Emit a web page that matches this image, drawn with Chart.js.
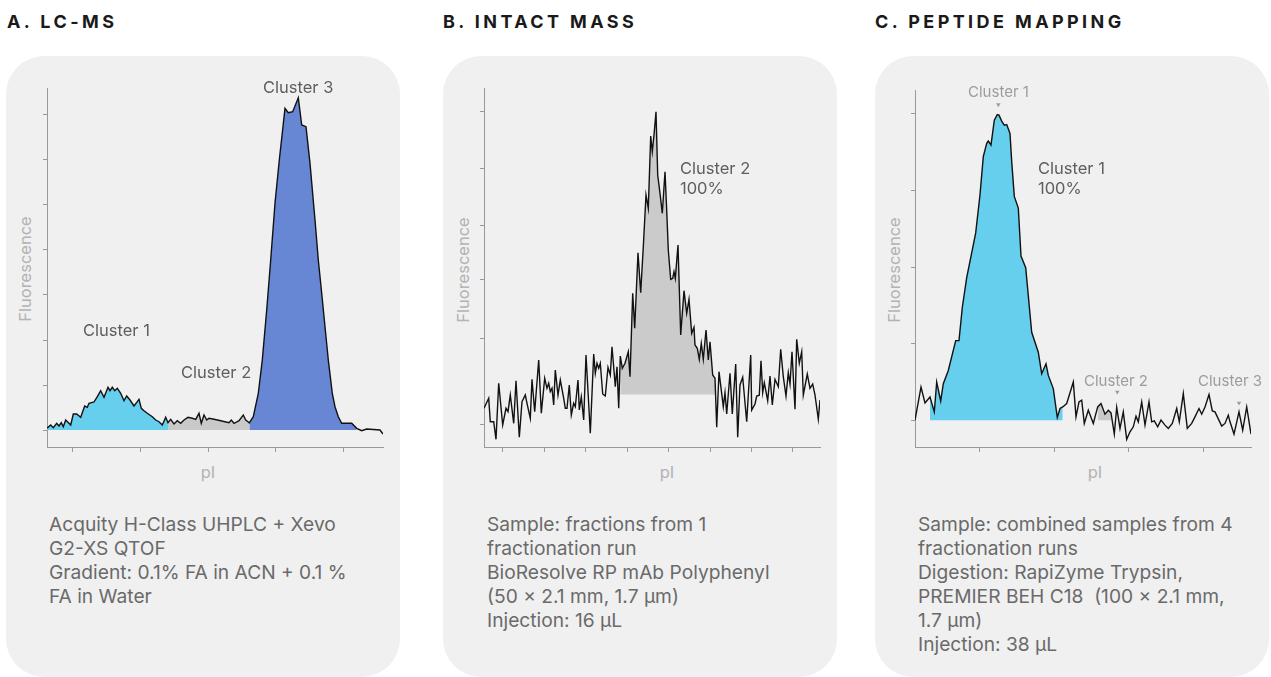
<!DOCTYPE html>
<html><head><meta charset="utf-8">
<script src="https://cdn.jsdelivr.net/npm/chart.js@4.4.1/dist/chart.umd.min.js"></script>
<style>
html,body{margin:0;padding:0;background:#fff}
body{width:1271px;height:677px;overflow:hidden;position:relative;font-family:Inter,"Noto Sans",sans-serif}
.title{position:absolute;top:13px;font-weight:700;font-size:18px;letter-spacing:3.4px;color:#1a1a1a;line-height:18px;white-space:nowrap}
.card{position:absolute;top:56px;width:394px;height:621px;background:#f0f0f0;border-radius:38px}
canvas{position:absolute}
.lbl{position:absolute;font-size:16.5px;line-height:20px;color:#5e5e5e;white-space:nowrap}
.sm{position:absolute;font-size:15px;line-height:16px;color:#9c9c9c;white-space:nowrap}
.ax{position:absolute;font-size:16.5px;line-height:20px;color:#b3b3b3;white-space:nowrap}
.rot{transform:translate(-50%,-50%) rotate(-90deg)}
.ctr{transform:translate(-50%,-50%)}
.desc{position:absolute;top:512px;font-size:19.2px;line-height:24px;color:#6a6a6a;white-space:nowrap}
</style></head>
<body>
<div class="title" style="left:7px">A. LC-MS</div>
<div class="title" style="left:443px">B. INTACT MASS</div>
<div class="title" style="left:875px">C. PEPTIDE MAPPING</div>

<div class="card" style="left:6px"></div>
<div class="card" style="left:443px"></div>
<div class="card" style="left:875px"></div>

<canvas id="chartA" width="346" height="369" style="left:41px;top:86px"></canvas>
<canvas id="chartB" width="346" height="369" style="left:478px;top:86px"></canvas>
<canvas id="chartC" width="346" height="369" style="left:909px;top:86px"></canvas>

<div class="ax rot" style="left:25px;top:269px">Fluorescence</div>
<div class="ax rot" style="left:463px;top:270px">Fluorescence</div>
<div class="ax rot" style="left:894px;top:270px">Fluorescence</div>
<div class="ax ctr" style="left:208px;top:472px">pI</div>
<div class="ax ctr" style="left:667px;top:472px">pI</div>
<div class="ax ctr" style="left:1095px;top:472px">pI</div>

<div class="lbl" style="left:263px;top:77px">Cluster 3</div>
<div class="lbl" style="left:83px;top:320px">Cluster 1</div>
<div class="lbl" style="left:181px;top:362px">Cluster 2</div>

<div class="lbl" style="left:680px;top:158px">Cluster 2<br>100%</div>

<div class="sm" style="left:968px;top:84px">Cluster 1</div>
<div class="lbl" style="left:1038px;top:158px">Cluster 1<br>100%</div>
<div class="sm" style="left:1084px;top:373px">Cluster 2</div>
<div class="sm" style="left:1198px;top:373px">Cluster 3</div>

<div class="desc" style="left:49px">Acquity H-Class UHPLC + Xevo<br>G2-XS QTOF<br>Gradient: 0.1% FA in ACN + 0.1 %<br>FA in Water</div>
<div class="desc" style="left:487px">Sample: fractions from 1<br>fractionation run<br>BioResolve RP mAb Polyphenyl<br>(50 × 2.1 mm, 1.7 µm)<br>Injection: 16 µL</div>
<div class="desc" style="left:918px">Sample: combined samples from 4<br>fractionation runs<br>Digestion: RapiZyme Trypsin,<br>PREMIER BEH C18&nbsp; (100 × 2.1 mm,<br>1.7 µm)<br>Injection: 38 µL</div>

<script>
// ---------- Panel A: LC-MS (x: pI position, arbitrary units; y: fluorescence, a.u.) ----------
const lcmsPI = [0,3.7,6.3,9.7,12,14.3,16.3,18.7,22,23.7,26.3,29.7,33.7,37.7,40.3,42,47,50.3,53.7,57,61,63,65.3,67.7,70.3,73.7,77,79.7,83,87,90.3,92,94.3,97,100.3,105.3,108.7,112,115.3,118.7,121,123.7,127,130.3,133.7,137,141,145.3,148.7,152,154.3,157,159.7,162,167,173.7,182,184.3,187,190.3,192,196.3,198.7,201,202.3,206.3,211.3,215.3,219.7,223.7,228,232.3,238,241.3,245.7,251.3,254.7,259,263,268,271.3,274.7,278,281.3,285.3,288,291.3,294.7,299.7,304.7,309.7,314.7,319.7,333,336];
const lcmsSignal = [1.7,5,2.3,6.7,4,7.3,3.3,10,6.7,5,16,16,12.7,24,22.7,26.7,28,33.3,39.3,32.7,42.7,39.3,42.7,39.3,41.7,36.7,29.3,34,30,24,28.3,30.7,21.7,19.3,16.7,13.3,10,8.3,5,12.7,7.3,10.7,6,9.3,6.7,10,12.7,11.7,10.7,16.7,6.7,15,10,11.7,10.7,9.3,7.3,10,6.7,8.3,9.3,15,10,8.3,7,13.3,36.7,70,120,170,226.7,270,321.7,317.3,318.3,332.3,305,303.3,266.7,210,170,136.7,103.3,70,36.7,23.3,13.3,6.7,6.7,6.7,1.7,-0.7,1,0,-4];
const lcmsClusterRanges = [[0,121],[121,202.3],[202.3,309.7]];
const lcmsClusterColors = ['#66cfed','#c9c9c9','#6786d4'];
const lcmsXTicks = [25.7,93.4,161,228.7,296.3];
const lcmsYTicks = [0,45,90,135,180,225,270,315];

// ---------- Panel B: Intact mass ----------
const intactPI = [0,4.7,6.3,9.7,12,14.7,18.7,22,24,26.3,29.7,32,35.3,38,41.3,43,46.3,48,50.7,54.7,57.3,60.7,63,64.7,66.3,68,69.7,71.3,74,76.3,79.7,81.3,83,85.3,87.3,89.7,91.3,94,95.3,97.3,99.7,102,106.3,109.7,111.3,113,114.7,116.3,118.7,121.3,124,126.3,128,131.3,133,134.7,136.3,138.3,141,144.3,146,148.7,150.7,154,156.7,159.3,162,164.3,166.7,168.3,170,172,173.7,176,178.3,181,182.7,184.3,186.7,188.7,190,191.3,194,196.7,200,202.7,205,207.7,210,211,213.3,215.3,217.3,219.3,222,224.3,226,228.7,231,232.7,235,239.3,241,242.7,246,248.3,251.7,253.7,256,258.7,262.7,266.7,267.7,271,272.7,275.3,277,278.7,280.3,283.7,286,288.3,291,294.3,296.7,299.3,302,304.3,306,308,311,312.7,315.3,317.7,319.3,323.3,326,328.7,331,334.3,336];
const intactSignal = [15.7,25.7,2.3,2.3,-15.3,40.7,-1,15.7,12.3,29,0.7,43.3,-13.3,22.3,29,20.7,5.7,44.7,12.3,64,10.7,45.7,35.7,40.7,32.3,35.7,19,54,29,44,25.7,15.7,15.7,39,9,20.7,17.3,44,14,27.3,4,69,-9.3,70,50.7,60.7,55.7,60.7,30,28,56.7,49,77.3,37.3,57.3,15.7,68,55.7,60.7,72.3,47.3,130.7,95.7,171.3,131.3,177.3,229,215.7,288,272.3,289,312.3,249,230.7,210.7,252.3,214,174,144.7,145.7,152.3,145.7,179,89,133.3,110.7,124.7,90.7,96.7,79,75.7,64.7,80.7,64.7,94,64,82.3,49,45.7,-3.3,52.3,17.3,31.3,10,50.7,10,60,-13.3,39,46.7,2.3,69,14,20,28,28.7,63.3,31.3,41.3,23.3,48,19,44.7,37.3,74.7,47.3,28,51.3,40,72.3,14.7,84.7,60.7,72.3,29,50,35.7,40,29,4.7,24];
const intactClusterRange = [136,231];
const intactClusterBase = 29.5;
const intactXTicks = [18.7,60.3,101.7,143.3,184.7,226,267.7,308.7];
const intactYTicks = [0,85.7,144,199,255.7,312.3];

// ---------- Panel C: Peptide mapping ----------
const peptidePI = [0,6,10,15,19.3,21.7,25.7,28.3,33.3,40.7,44,47.3,51.7,56.7,60.7,65,68.3,71.7,73.3,76,79.3,82.3,84,86.7,89.3,91.7,95,96.7,99.3,103.3,106,110.7,116.7,123.3,126.7,131,133.3,138.3,142.3,145,147.7,151.7,158.3,161,164,166.7,169.3,173.3,178.3,182.7,186,190,193.3,196,199.3,201.7,205,208.3,211.7,215,218.3,221,223.3,226.7,230,234,236.7,239.3,242.7,246,250,253.3,257.3,261.7,264.3,268.3,272.3,276.7,280,284,286.7,290,294,297.3,300,306.7,310,313.3,315,319,324,327.7,331.7,336];
const peptideSignal = [0,33.3,17.3,23.3,8.3,38.3,19.3,36.7,50,80,80,113.3,143.3,168.3,188.3,226.7,265,278.3,280.7,276.7,301.7,307.3,306.7,300.7,296.7,297.3,288.3,260,225,213.3,165,153.3,88.3,68.3,46.7,56.7,45,31.7,2.7,11.7,13.3,16.7,38.3,3.3,18.3,20,-3.3,10,-3.3,13.3,16.7,6,10,7.3,-14,12.7,-8.3,8.3,-19.3,-11.7,-6.7,4,-1.7,18.3,-5,18.3,-1.7,-0.7,-6.7,0,-5,-8.3,-3.3,11.7,-1.7,26.7,-8.3,-3.3,3.3,11.7,6,13.3,25.7,9.3,8.3,-6,-3.3,5,-1.7,-14,8.3,-10,13.3,-14];
const peptideClusterRanges = [[15,147.7],[182,196.5]];
const peptideClusterColors = ['#66cfed','#c9c9c9'];
const peptideMarkerPI = [83.3,202.3,324];
const peptideMarkerLevel = [317.3,28.3,17.3];
const peptideXTicks = [64.3,139.3,213.3,288.3];
const peptideYTicks = [0,77,154,231,308];

// ---------- helpers ----------
const toPoints = (xs, ys) => xs.map((x, i) => ({x, y: ys[i]}));
const inRange = (pts, r) => pts.filter(p => p.x >= r[0] && p.x <= r[1]);
const AXIS = '#999999';

function makeChart(id, cfg) {
  const pts = toPoints(cfg.xs, cfg.ys);
  const datasets = [];
  if (cfg.markers) {
    datasets.push({data: cfg.markers, showLine: false, pointStyle: 'triangle', pointRotation: 180,
      pointRadius: 2.6, pointBackgroundColor: '#9c9c9c', pointBorderWidth: 0, borderWidth: 0});
  }
  datasets.push({data: pts, borderColor: '#111', borderWidth: 1.4, pointRadius: 0, fill: false, tension: 0});
  cfg.fills.forEach(f => datasets.push({
    data: inRange(pts, f.range), borderWidth: 0, pointRadius: 0, backgroundColor: f.color,
    fill: f.base === 0 ? 'origin' : {value: f.base}, tension: 0
  }));
  new Chart(document.getElementById(id), {
    type: 'line',
    data: {datasets},
    options: {
      responsive: false, animation: false, devicePixelRatio: 1, events: [],
      layout: {padding: {top: 2, right: 4, left: 0, bottom: 0}},
      plugins: {legend: {display: false}, tooltip: {enabled: false}},
      scales: {
        x: {type: 'linear', min: 0, max: 336,
          afterBuildTicks: s => { s.ticks = cfg.xTicks.map(v => ({value: v})); },
          afterFit: s => { s.height = 8; },
          ticks: {display: false},
          grid: {drawOnChartArea: false, drawTicks: true, tickLength: 5, color: AXIS, lineWidth: 1},
          border: {display: true, color: AXIS, width: 1}},
        y: {type: 'linear', min: cfg.yMin, max: cfg.yMax,
          afterBuildTicks: s => { s.ticks = cfg.yTicks.map(v => ({value: v})); },
          afterFit: s => { s.width = 6; },
          ticks: {display: false},
          grid: {drawOnChartArea: false, drawTicks: true, tickLength: 4, color: AXIS, lineWidth: 1},
          border: {display: true, color: AXIS, width: 1}}
      }
    }
  });
}

makeChart('chartA', {xs: lcmsPI, ys: lcmsSignal, yMin: -17, yMax: 342,
  xTicks: lcmsXTicks, yTicks: lcmsYTicks,
  fills: lcmsClusterRanges.map((r, i) => ({range: r, color: lcmsClusterColors[i], base: 0}))});

makeChart('chartB', {xs: intactPI, ys: intactSignal, yMin: -23, yMax: 336,
  xTicks: intactXTicks, yTicks: intactYTicks,
  fills: [{range: intactClusterRange, color: '#cbcbcb', base: intactClusterBase}]});

makeChart('chartC', {xs: peptidePI, ys: peptideSignal, yMin: -27, yMax: 332,
  xTicks: peptideXTicks, yTicks: peptideYTicks,
  markers: toPoints(peptideMarkerPI, peptideMarkerLevel),
  fills: peptideClusterRanges.map((r, i) => ({range: r, color: peptideClusterColors[i], base: 0}))});
</script>
</body></html>
